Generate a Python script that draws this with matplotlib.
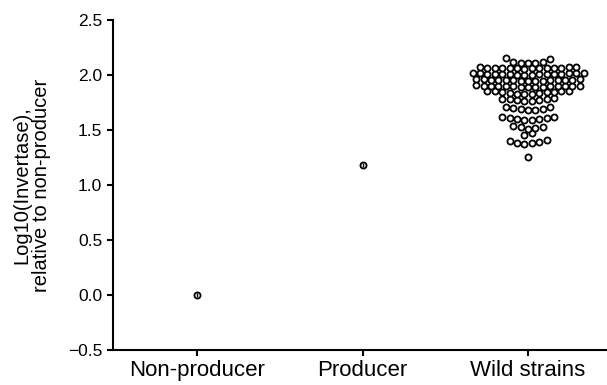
import numpy as np
import matplotlib
matplotlib.use("Agg")
import matplotlib.pyplot as plt

plt.rcParams["font.family"] = ["Liberation Sans", "DejaVu Sans"]

categories = ["Non-producer", "Producer", "Wild strains"]

# mean and SD of the two reference strains (log10 invertase, relative to non-producer)
control_means = [0.0, 1.18]
control_sds = [0.02, 0.02]

# log10 invertase of the wild isolates
wild_values = [
    2.155, 2.145, 2.118, 2.115, 2.113, 2.112, 2.11,
    2.072, 2.07, 2.07, 2.068, 2.068, 2.066, 2.066, 2.064, 2.064, 2.062, 2.062, 2.06, 2.06, 2.058,
    2.018, 2.016, 2.016, 2.014, 2.014, 2.012, 2.012, 2.01, 2.01, 2.008, 2.008, 2.006, 2.006, 2.004, 2.004, 2.002,
    1.962, 1.96, 1.96, 1.958, 1.958, 1.956, 1.956, 1.954, 1.954, 1.952, 1.952, 1.95, 1.95, 1.948, 1.948,
    1.906, 1.904, 1.904, 1.902, 1.902, 1.90, 1.90, 1.898, 1.898, 1.896, 1.896, 1.894, 1.894, 1.892, 1.892,
    1.855, 1.855, 1.852, 1.852, 1.85, 1.85, 1.845, 1.84, 1.835, 1.83, 1.825, 1.825,
    1.79, 1.785, 1.78, 1.78, 1.775, 1.77, 1.765, 1.76,
    1.71, 1.705, 1.70, 1.695, 1.69, 1.685, 1.68,
    1.62, 1.615, 1.61, 1.605, 1.60, 1.60, 1.595, 1.59,
    1.54, 1.53, 1.525, 1.52, 1.51,
    1.47, 1.455,
    1.41, 1.40, 1.39, 1.385, 1.38, 1.37,
    1.255,
]


def swarm_offsets(values, row_height=0.05, step=0.0447):
    """Group values into horizontal rows (bottom up) and spread each row about the centre."""
    vals = np.sort(np.asarray(values))
    rows, cur, start = [], [], None
    for v in vals:
        if start is None or v > start + row_height:
            if cur:
                rows.append(cur)
            cur, start = [], v
        cur.append(v)
    rows.append(cur)

    xs, ys = [], []
    for row in rows:
        # lowest in the middle, highest at the edges
        n = len(row)
        if n % 2:
            slots = [0.0] + [s * k for k in range(1, n) for s in (1, -1)]
        else:
            slots = [s * (k - 0.5) for k in range(1, n) for s in (-1, 1)]
        for v, sl in zip(row, slots[:n]):
            xs.append(sl * step)
            ys.append(v)
    return np.array(xs), np.array(ys)


fig = plt.figure(figsize=(6.07, 3.85), dpi=100)
ax = fig.add_axes([113 / 607, 35 / 385, 494 / 607, 330 / 385])

marker_kw = dict(marker="o", ms=4.4, mec="black", mew=1.3, ls="none")

ax.errorbar([0, 1], control_means, yerr=control_sds, ecolor="black",
            elinewidth=1.0, capsize=0, mfc="none", zorder=3, **marker_kw)

dx, dy = swarm_offsets(wild_values)
ax.plot(2 + dx, dy, mfc="white", zorder=3, **marker_kw)

ax.set_xlim(-0.508, 2.477)
ax.set_ylim(-0.5, 2.5)
ax.set_yticks(np.arange(-0.5, 2.51, 0.5))
ax.set_yticklabels(["\u22120.5", "0.0", "0.5", "1.0", "1.5", "2.0", "2.5"])
ax.set_xticks(range(len(categories)))
ax.set_xticklabels(categories, fontsize=16)

for side in ("top", "right"):
    ax.spines[side].set_visible(False)
for side in ("left", "bottom"):
    ax.spines[side].set_linewidth(1.5)

ax.tick_params(axis="y", labelsize=12.5, length=4.3, width=1.5, pad=3.5)
ax.tick_params(axis="x", length=4.3, width=1.5, pad=3.0)

ax.set_ylabel("Log10(Invertase),\nrelative to non-producer", fontsize=14.5,
              linespacing=1.05)
ax.yaxis.set_label_coords(-0.1255, 0.5)

fig.savefig("out.png", dpi=100)
